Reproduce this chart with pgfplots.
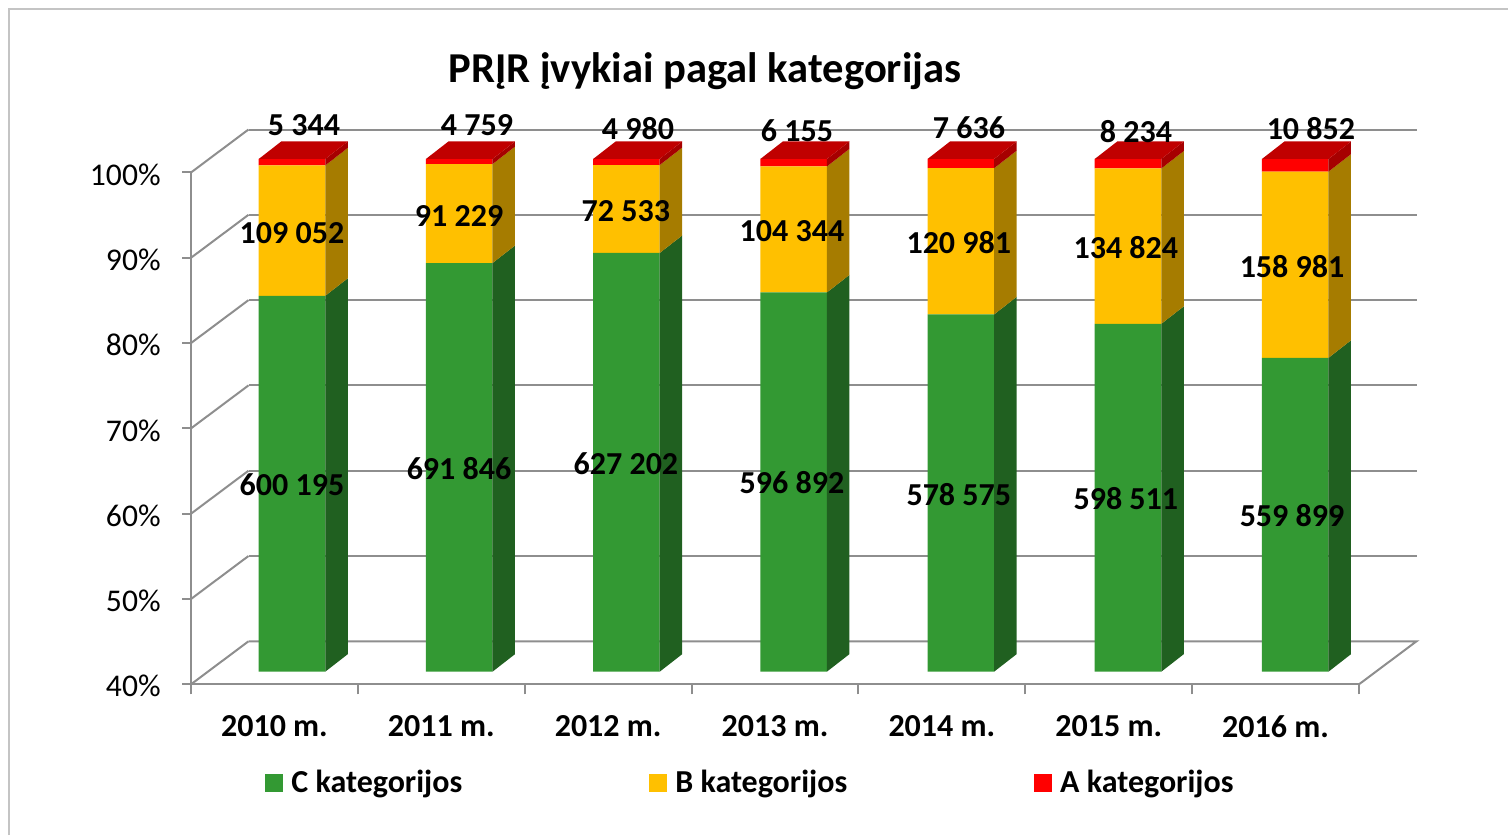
\documentclass[border=0pt]{standalone}
\usepackage{fontspec}
\setmainfont{Carlito}
\usepackage{pgfplots}
\pgfplotsset{compat=1.18}
\usepackage{pgfplotstable}

\definecolor{gridgray}{HTML}{8E8E8E}
\definecolor{framegray}{HTML}{C4C4C4}
\definecolor{cfront}{HTML}{339933}
\definecolor{cside}{HTML}{206020}
\definecolor{bfront}{HTML}{FFC000}
\definecolor{bside}{HTML}{A67C00}
\definecolor{afront}{HTML}{FF0000}
\definecolor{aside}{HTML}{A60000}
\definecolor{atop}{HTML}{C00000}

% share of each category, percent of the yearly total
\pgfplotstableread{
x C B A
0 83.99 15.26 0.75
1 87.82 11.58 0.60
2 89.00 10.29 0.71
3 84.38 14.75 0.87
4 81.81 17.11 1.08
5 80.71 18.18 1.11
6 76.73 21.79 1.48
}\shares

% side and top faces of one bar:
% {x right}{x right back}{x left}{x left back}{C top}{C+B top}{C top back}{C+B top back}
\newcommand{\barfaces}[8]{%
  \addplot[fill=cside,draw=none] coordinates {(#1,40) (#2,42.05) (#2,#7) (#1,#5)} -- cycle;
  \addplot[fill=bside,draw=none] coordinates {(#1,#5) (#2,#7) (#2,#8) (#1,#6)} -- cycle;
  \addplot[fill=aside,draw=none] coordinates {(#1,#6) (#2,#8) (#2,102.05) (#1,100)} -- cycle;
  \addplot[fill=atop,draw=none] coordinates {(#3,100) (#1,100) (#2,102.05) (#4,102.05)} -- cycle;
}

\begin{document}
\begin{tikzpicture}
\path[use as bounding box] (0,0) rectangle (754pt,417.5pt);
\draw[framegray,line width=0.8pt] (4.5pt,0) -- (4.5pt,413pt) -- (754pt,413pt);

% front plane: axes, ticks, walls
\begin{axis}[
  at={(95.5pt,75.35pt)}, anchor=south west,
  scale only axis, width=584pt, height=255.9pt,
  xmin=-0.5, xmax=6.5, ymin=40, ymax=100,
  clip=false,
  axis x line*=bottom, axis y line*=left,
  axis line style={gridgray,line width=1pt,-},
  xtick={0,...,6},
  xticklabels={2010 m.,2011 m.,2012 m.,2013 m.,2014 m.,2015 m.,2016 m.},
  minor xtick={-0.5,0.5,1.5,2.5,3.5,4.5,5.5,6.5},
  major x tick style={draw=none},
  minor x tick style={gridgray,line width=1pt},
  minor tick length=5pt,
  ytick={40,50,60,70,80,90,100},
  y tick style={gridgray,line width=1pt},
  major tick length=4.5pt,
  tick align=outside,
  yticklabel={\pgfmathprintnumber[assume math mode=true]{\tick}\%},
  y tick label style={font=\fontsize{15.8}{18}\selectfont,inner sep=0pt,xshift=-10.5pt,yshift=-1pt},
  x tick label style={font=\bfseries\fontsize{16}{18}\selectfont,inner sep=0pt,yshift=-11pt},
  title={PRĮR įvykiai pagal kategorijas},
  title style={at={(0.44,1.175)},anchor=center,inner sep=0pt,
    font=\bfseries\fontsize{21.3}{25}\selectfont},
]
\pgfplotsinvokeforeach{40,50,60,70,80,90,100}{
  \addplot[gridgray,line width=1pt] coordinates {(-0.5,#1) (-0.1554,#1+5.04)};
}
\addplot[gridgray,line width=1pt] coordinates {(-0.1554,45.04) (6.8446,45.04) (6.5,40)};
\addplot[gridgray,line width=1pt] coordinates {(-0.1554,55.04) (6.8446,55.04)};
\addplot[gridgray,line width=1pt] coordinates {(-0.1554,65.04) (6.8446,65.04)};
\addplot[gridgray,line width=1pt] coordinates {(-0.1554,75.04) (6.8446,75.04)};
\addplot[gridgray,line width=1pt] coordinates {(-0.1554,85.04) (6.8446,85.04)};
\addplot[gridgray,line width=1pt] coordinates {(-0.1554,95.04) (6.8446,95.04)};
\addplot[gridgray,line width=1pt] coordinates {(-0.1554,105.04) (6.8446,105.04)};
\end{axis}

% bar fronts
\begin{axis}[
  at={(104.2pt,81.65pt)}, anchor=south west,
  scale only axis, width=585.2pt, height=256.35pt,
  xmin=-0.5, xmax=6.5, ymin=40, ymax=100,
  hide axis,
  ybar stacked, bar width=0.398,
  legend columns=3,
  legend image code/.code={\fill[#1,draw=none] (0pt,-4.5pt) rectangle (9pt,4.5pt);\path (11pt,0pt);},
  legend style={at={(0.0484,-0.217)},anchor=west,draw=none,fill=none,inner sep=0pt,
    font=\bfseries\fontsize{16}{18}\selectfont,
    /tikz/column 2/.style={column sep=91.5pt},
    /tikz/column 4/.style={column sep=91.5pt}},
]
\addplot[fill=cfront,draw=none] table[x=x,y=C] {\shares};
\addplot[fill=bfront,draw=none] table[x=x,y=B] {\shares};
\addplot[fill=afront,draw=none] table[x=x,y=A] {\shares};
\legend{C kategorijos,B kategorijos,A kategorijos}
\end{axis}

% bar sides, tops and the value labels
\begin{axis}[
  at={(104.2pt,81.65pt)}, anchor=south west,
  scale only axis, width=585.2pt, height=256.35pt,
  xmin=-0.5, xmax=6.5, ymin=40, ymax=100,
  hide axis, clip=false,
]
\barfaces{0.199}{0.3336}{-0.199}{-0.0644}{83.99}{99.25}{86.04}{101.30}
\barfaces{1.199}{1.3336}{0.801}{0.9356}{87.82}{99.40}{89.87}{101.45}
\barfaces{2.199}{2.3336}{1.801}{1.9356}{89.00}{99.29}{91.05}{101.34}
\barfaces{3.199}{3.3336}{2.801}{2.9356}{84.38}{99.13}{86.43}{101.18}
\barfaces{4.199}{4.3336}{3.801}{3.9356}{81.81}{98.92}{83.86}{100.97}
\barfaces{5.199}{5.3336}{4.801}{4.9356}{80.71}{98.89}{82.76}{100.94}
\barfaces{6.199}{6.3336}{5.801}{5.9356}{76.73}{98.52}{78.78}{100.57}
\addplot[draw=none,mark=none,point meta=explicit symbolic,nodes near coords,
  nodes near coords align={center},
  every node near coord/.append style={inner sep=0pt,text=black,
    font=\bfseries\fontsize{16}{18}\selectfont}]
  table[meta=label] {
x y label
0.000 61.85 {600 195}
0.999 63.72 {691 846}
1.997 64.31 {627 202}
2.990 62.08 {596 892}
3.988 60.68 {578 575}
4.987 60.21 {598 511}
5.981 58.22 {559 899}
0.000 91.34 {109 052}
0.999 93.33 {91 229}
1.997 93.91 {72 533}
2.990 91.57 {104 344}
3.988 90.17 {120 981}
4.987 89.58 {134 824}
5.981 87.36 {158 981}
0.072 103.98 {5 344}
1.106 103.98 {4 759}
2.069 103.51 {4 980}
3.020 103.28 {6 155}
4.049 103.63 {7 636}
5.048 103.16 {8 234}
6.094 103.51 {10 852}
};
\end{axis}
\end{tikzpicture}
\end{document}
